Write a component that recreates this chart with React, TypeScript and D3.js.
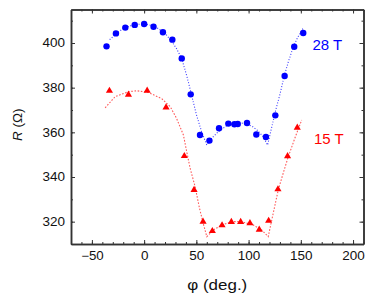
import React, { useEffect, useRef } from "react";
import * as d3 from "d3";

// 28 T data (blue circles)
const phi28 = [-36, -27, -18, -9, 0, 9, 18, 27, 36, 44.6, 53.5, 62.5, 71.7, 80.6, 86.4, 89.6, 98.5, 107.4, 116.6, 125.6, 134.5, 143.7, 152.3];
const r28 = [398.5, 404.3, 406.9, 408.1, 408.5, 407.3, 404.8, 401.5, 393.1, 377, 358.8, 356.3, 361.8, 363.9, 363.6, 363.7, 364.2, 359, 357.9, 367.6, 385.2, 398.3, 404.5];

// 15 T data (red triangles)
const phi15 = [-33.2, -15, 2.9, 21, 38.5, 47.8, 56.4, 65.3, 74.6, 83.5, 92.4, 101.3, 110.2, 119.2, 128.1, 137.3, 146.6];
const r15 = [378.6, 376.9, 378.7, 371.2, 349.4, 334.2, 320, 315.8, 318.4, 319.9, 319.9, 319.3, 316.4, 320.4, 334.5, 349.3, 362.1];

// dotted fit curves
const phiFit28 = [-33, -27, -20, -10, 0, 10, 20, 26, 31, 36, 41, 45, 50, 55, 60, 65, 71, 80, 88, 97, 104, 109, 114, 118.2, 122, 126, 130, 134, 138, 143, 147, 152];
const rFit28 = [401.5, 404, 406.5, 408.2, 408.6, 407.6, 404.3, 401, 397.5, 393, 385, 377.5, 368, 360.3, 354.3, 357.5, 360.3, 363.3, 364.3, 364, 362.5, 360.7, 358, 354.3, 362, 370, 377, 385, 391.5, 398.5, 402.5, 406.5];
const phiFit15 = [-37.3, -27.7, -15, -7, 4, 17, 25, 31, 37.6, 40.8, 44, 48.8, 53, 57, 60, 67, 74.3, 83.8, 93.4, 104.5, 112.5, 118.8, 123, 128.4, 133, 138, 144, 150.8];
const rFit15 = [371, 376, 378.2, 378.6, 377.9, 375, 371.5, 366.3, 358.8, 351.3, 344, 335.7, 326, 318.5, 313.3, 316.5, 318.5, 320, 320, 318.5, 316.3, 313.3, 322.5, 334.2, 341.5, 349.1, 357, 365.5];

const xTicks = [-50, 0, 50, 100, 150, 200];
const yTicks = [320, 340, 360, 380, 400];

const App: React.FC = () => {
  const svgRef = useRef<SVGSVGElement>(null);

  useEffect(() => {
    if (!svgRef.current) return;
    const width = 374;
    const height = 302;
    const margin = { top: 9.5, right: 10.5, bottom: 58, left: 71 };

    const svg = d3.select(svgRef.current);
    svg.selectAll("*").remove();

    const x = d3.scaleLinear().domain([-70, 210]).range([margin.left, width - margin.right]);
    const y = d3.scaleLinear().domain([310, 415]).range([height - margin.bottom, margin.top]);

    const axisColor = "#333";
    const font = "'Liberation Sans', Arial, sans-serif";

    const xMinor = d3.range(-70, 211, 10);
    const yMinor = d3.range(310, 416, 10);

    // frame + ticks (all inward)
    const addAxis = (axis: d3.Axis<d3.NumberValue>, tx: number, ty: number) => {
      const g = svg.append("g").attr("transform", `translate(${tx},${ty})`).call(axis);
      g.select(".domain").attr("stroke", axisColor).attr("stroke-width", 1.5);
      g.selectAll(".tick line").attr("stroke", axisColor).attr("stroke-width", 1);
      return g;
    };

    const bottomY = y(310);
    const topY = y(415);
    const leftX = x(-70);
    const rightX = x(210);

    // minor ticks
    addAxis(d3.axisBottom(x).tickValues(xMinor).tickSize(-2).tickSizeOuter(0).tickFormat(() => ""), 0, bottomY);
    addAxis(d3.axisTop(x).tickValues(xMinor).tickSize(-2).tickSizeOuter(0).tickFormat(() => ""), 0, topY);
    addAxis(d3.axisLeft(y).tickValues(yMinor).tickSize(-2).tickSizeOuter(0).tickFormat(() => ""), leftX, 0);
    addAxis(d3.axisRight(y).tickValues(yMinor).tickSize(-2).tickSizeOuter(0).tickFormat(() => ""), rightX, 0);

    // major ticks
    const gx = addAxis(d3.axisBottom(x).tickValues(xTicks).tickSize(-4).tickSizeOuter(0).tickPadding(7), 0, bottomY);
    addAxis(d3.axisTop(x).tickValues(xTicks).tickSize(-4).tickSizeOuter(0).tickFormat(() => ""), 0, topY);
    const gy = addAxis(d3.axisLeft(y).tickValues(yTicks).tickSize(-4).tickSizeOuter(0).tickPadding(6), leftX, 0);
    addAxis(d3.axisRight(y).tickValues(yTicks).tickSize(-4).tickSizeOuter(0).tickFormat(() => ""), rightX, 0);

    const styleLabels = (g: d3.Selection<SVGGElement, unknown, null, undefined>) => {
      g.selectAll<SVGTextElement, number>("text")
        .attr("font-family", font)
        .attr("font-size", 12)
        .attr("fill", "#111")
        .attr("lengthAdjust", "spacingAndGlyphs")
        .attr("textLength", d => String(d).length * 7.5);
    };
    styleLabels(gx);
    styleLabels(gy);

    // fit curves
    const drawFit = (phis: number[], rs: number[], color: string, dash: string) => {
      const gen = d3.line<number>()
        .x(i => x(phis[i]))
        .y(i => y(rs[i]));
      svg.append("path")
        .attr("d", gen(d3.range(phis.length)))
        .attr("fill", "none")
        .attr("stroke", color)
        .attr("stroke-width", 1.1)
        .attr("stroke-dasharray", dash);
    };
    drawFit(phiFit28, rFit28, "#3a3aff", "1,1.8");
    drawFit(phiFit15, rFit15, "#ff5a5a", "1.6,1.6");

    // markers
    svg.append("g")
      .selectAll("circle")
      .data(d3.range(phi28.length))
      .enter()
      .append("circle")
      .attr("cx", i => x(phi28[i]))
      .attr("cy", i => y(r28[i]))
      .attr("r", 3.2)
      .attr("fill", "#0000ff");

    const tri = d3.symbol().type(d3.symbolTriangle).size(22);
    svg.append("g")
      .selectAll("path")
      .data(d3.range(phi15.length))
      .enter()
      .append("path")
      .attr("d", tri()!)
      .attr("transform", i => `translate(${x(phi15[i])},${y(r15[i])})`)
      .attr("fill", "#ff0000");

    // series labels
    svg.append("text")
      .attr("x", 312.5)
      .attr("y", 49.5)
      .attr("font-family", font)
      .attr("font-size", 15)
      .attr("fill", "#0000ff")
      .text("28 T");
    svg.append("text")
      .attr("x", 314)
      .attr("y", 144)
      .attr("font-family", font)
      .attr("font-size", 15)
      .attr("fill", "#ff0000")
      .text("15 T");

    // axis titles
    svg.append("text")
      .attr("x", (leftX + rightX) / 2)
      .attr("y", 289.5)
      .attr("text-anchor", "middle")
      .attr("font-family", font)
      .attr("font-size", 15)
      .attr("fill", "#111")
      .attr("lengthAdjust", "spacingAndGlyphs")
      .attr("textLength", 60)
      .text("φ (deg.)");

    const yt = svg.append("text")
      .attr("transform", `translate(22,${(topY + bottomY) / 2 - 2}) rotate(-90)`)
      .attr("text-anchor", "middle")
      .attr("font-family", font)
      .attr("font-size", 13.5)
      .attr("fill", "#111");
    yt.append("tspan").attr("font-style", "italic").text("R");
    yt.append("tspan").text(" (Ω)");
  }, []);

  return (
    <svg
      ref={svgRef}
      width={374}
      height={302}
      style={{ position: "absolute", left: 0, top: 0, background: "#fff" }}
    />
  );
};

export default App;
